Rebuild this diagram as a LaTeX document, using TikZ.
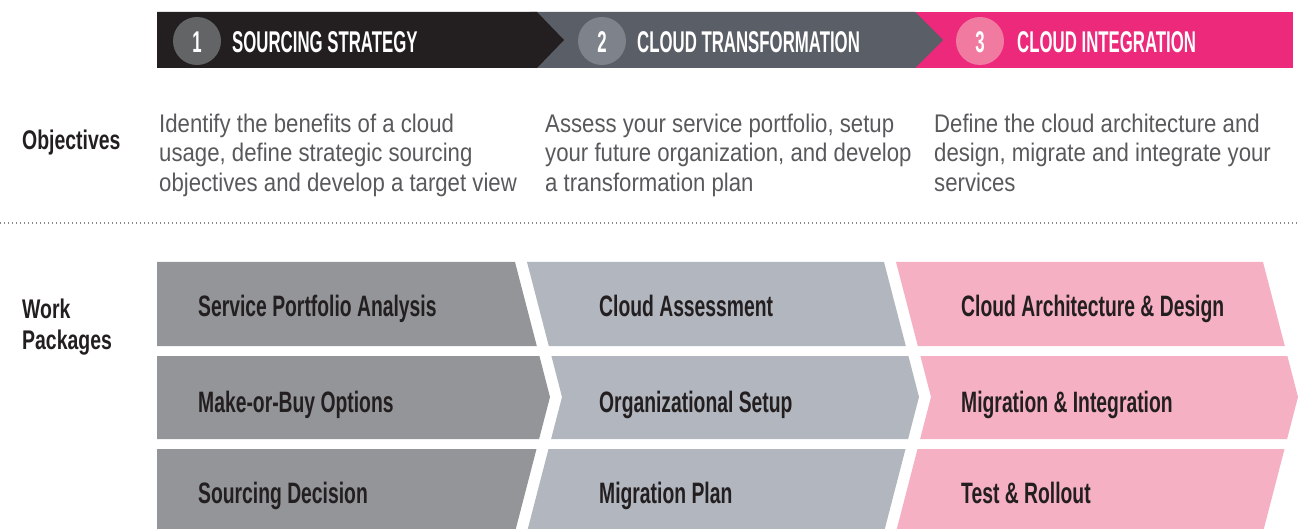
\documentclass[tikz,border=0pt]{standalone}
\usepackage{fontspec}
\setmainfont{Liberation Sans}
\newfontfamily\bnfont{Liberation Sans}[FakeStretch=0.56]
\newfontfamily\wpfont{Liberation Sans}[FakeStretch=0.655]
\newfontfamily\lbfont{Liberation Sans}[FakeStretch=0.72]
\newfontfamily\objfont{Liberation Sans}[FakeStretch=0.87]
\definecolor{bnblack}{HTML}{231F20}
\definecolor{bngray}{HTML}{5A5E66}
\definecolor{bnpink}{HTML}{EC297B}
\definecolor{circA}{HTML}{636466}
\definecolor{circB}{HTML}{7E828B}
\definecolor{circC}{HTML}{F17AA0}
\definecolor{wpA}{HTML}{939598}
\definecolor{wpB}{HTML}{B2B6BE}
\definecolor{wpC}{HTML}{F6B0C4}
\definecolor{darktxt}{HTML}{231F20}
\definecolor{objgray}{HTML}{58595B}
\definecolor{dotgray}{HTML}{8A8A8C}
\tikzset{
  bntxt/.style={text=white, font=\bnfont\bfseries\fontsize{30}{30}\selectfont, inner sep=0pt, anchor=base west},
  numtxt/.style={text=white, font=\bnfont\bfseries\fontsize{30}{30}\selectfont, inner sep=0pt, anchor=base},
  wptxt/.style={text=darktxt, font=\wpfont\bfseries\fontsize{29.5}{30}\selectfont, inner sep=0pt, anchor=base west},
  lbtxt/.style={text=darktxt, font=\lbfont\bfseries\fontsize{27}{30}\selectfont, inner sep=0pt, anchor=base west},
  objtxt/.style={text=objgray, font=\objfont\fontsize{25.5}{29.5}\selectfont, inner sep=0pt, anchor=north west, align=left},
  dotline/.style={draw=dotgray, line width=1.3pt, dash pattern=on 1.3pt off 2.7pt},
}
\begin{document}
\begin{tikzpicture}[x=1pt,y=-1pt]
\useasboundingbox (0,0) rectangle (1298,529);
% ---- banner
\fill[bnpink] (900,12) -- (1293,12) -- (1293,68) -- (900,68) -- cycle;
\fill[bngray] (530,12) -- (915,12) -- (943,40) -- (915,68) -- (530,68) -- cycle;
\fill[bnblack] (157,12) -- (537,12) -- (564,40) -- (537,68) -- (157,68) -- cycle;
\fill[circA] (197,41) circle (24pt);
\fill[circB] (602,41) circle (24pt);
\fill[circC] (980,41) circle (24pt);
\node[numtxt] (n1) at (197,52.5) {1};
\node[numtxt] (n2) at (602,52.5) {2};
\node[numtxt] (n3) at (980,52.5) {3};
\node[bntxt] (t1) at (232,53) {SOURCING STRATEGY};
\node[bntxt] (t2) at (637,53) {CLOUD TRANSFORMATION};
\node[bntxt] (t3) at (1017,53) {CLOUD INTEGRATION};
% ---- objectives
\node[lbtxt] (objl) at (22,150) {Objectives};
\node[objtxt] (o1) at (159,113.5) {Identify the benefits of a cloud\\usage, define strategic sourcing\\objectives and develop a target view};
\node[objtxt] (o2) at (545,113.5) {Assess your service portfolio, setup\\your future organization, and develop\\a transformation plan};
\node[objtxt] (o3) at (934,113.5) {Define the cloud architecture and\\design, migrate and integrate your\\services};
\coordinate (dl) at (0,223);
\coordinate (dr) at (1298,223);
\draw[dotline] (dl) -- (dr);
% ---- work packages label
\node[lbtxt] (wl1) at (22,318) {Work};
\node[lbtxt] (wl2) at (22,349) {Packages};
% ---- column 1
\fill[wpA] (157,262) -- (515,262) -- (536.8,346) -- (157,346) -- cycle;
\fill[wpA] (157,356) -- (539.4,356) -- (550,397) -- (539.1,439) -- (157,439) -- cycle;
\fill[wpA] (157,449) -- (536.5,449) -- (515,532) -- (157,532) -- cycle;
% ---- column 2
\fill[wpB] (527,262) -- (884,262) -- (905.8,346) -- (548.8,346) -- cycle;
\fill[wpB] (551.4,356) -- (908.4,356) -- (919,397) -- (908.1,439) -- (551.1,439) -- (562,397) -- cycle;
\fill[wpB] (548.5,449) -- (905.5,449) -- (884,532) -- (527,532) -- cycle;
% ---- column 3
\fill[wpC] (896,262) -- (1263,262) -- (1284.8,346) -- (917.8,346) -- cycle;
\fill[wpC] (920.4,356) -- (1287.4,356) -- (1298,397) -- (1287.1,439) -- (920.1,439) -- (931,397) -- cycle;
\fill[wpC] (917.5,449) -- (1284.5,449) -- (1263,532) -- (896,532) -- cycle;
% ---- work package texts
\node[wptxt] (w11) at (198,316.5) {Service Portfolio Analysis};
\node[wptxt] (w12) at (198,412) {Make-or-Buy Options};
\node[wptxt] (w13) at (198,503) {Sourcing Decision};
\node[wptxt] (w21) at (599,316.5) {Cloud Assessment};
\node[wptxt] (w22) at (599,412) {Organizational Setup};
\node[wptxt] (w23) at (599,503) {Migration Plan};
\node[wptxt] (w31) at (961,316.5) {Cloud Architecture \& Design};
\node[wptxt] (w32) at (961,412) {Migration \& Integration};
\node[wptxt] (w33) at (961,503) {Test \& Rollout};
\end{tikzpicture}
\end{document}
